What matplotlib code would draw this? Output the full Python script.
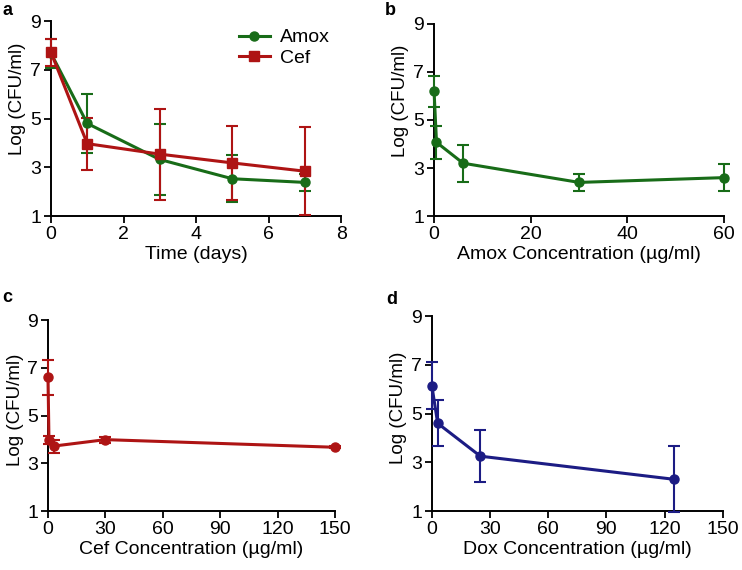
import matplotlib
matplotlib.use("Agg")
import matplotlib.pyplot as plt

plt.rcParams['font.family'] = ['Liberation Sans', 'DejaVu Sans']

GREEN = '#186c18'
RED = '#ae1414'
BLUE = '#1c1c84'

# panel a - time kill
days = [0, 1, 3, 5, 7]
amox_t = [7.68, 4.8, 3.32, 2.53, 2.38]
amox_t_err = [0.6, 1.2, 1.45, 0.97, 0.35]
cef_t = [7.72, 3.97, 3.54, 3.18, 2.84]
cef_t_err = [0.55, 1.07, 1.87, 1.52, 1.8]

# panel b - amox concentration
amox_conc = [0, 0.5, 6, 30, 60]
amox_cfu = [6.2, 4.07, 3.2, 2.4, 2.6]
amox_err = [0.65, 0.7, 0.77, 0.35, 0.55]

# panel c - cef concentration
cef_conc = [0, 0.5, 3, 30, 150]
cef_cfu = [6.6, 3.97, 3.72, 3.99, 3.67]
cef_err = [0.74, 0.18, 0.27, 0.12, 0.04]

# panel d - dox concentration
dox_conc = [0, 3, 25, 125]
dox_cfu = [6.15, 4.6, 3.25, 2.3]
dox_err = [0.97, 0.95, 1.07, 1.35]

fig = plt.figure(figsize=(7.42, 5.70), dpi=100)

positions = [
    [0.0687, 0.621, 0.391, 0.342],
    [0.585, 0.621, 0.391, 0.337],
    [0.0647, 0.1035, 0.387, 0.335],
    [0.582, 0.1035, 0.392, 0.342],
]
axes = [fig.add_axes(p) for p in positions]


def style(ax, xmax, xticks, xlabel, ylab_pos):
    ax.set_xlim(0, xmax)
    ax.set_ylim(1, 9)
    ax.set_xticks(xticks)
    ax.set_yticks([1, 3, 5, 7, 9])
    for s in ['top', 'right']:
        ax.spines[s].set_visible(False)
    for s in ['left', 'bottom']:
        ax.spines[s].set_linewidth(1.4)
    ax.tick_params(direction='out', length=5, width=1.3, labelsize=14, pad=2)
    ax.set_xlabel(xlabel, fontsize=14, labelpad=2)
    ax.set_ylabel('Log (CFU/ml)', fontsize=13.5, labelpad=3)
    ax.yaxis.set_label_coords(-0.085, ylab_pos)


def draw(ax, x, y, err, color, marker, label=None):
    ax.errorbar(x, y, yerr=err, color=color, marker=marker, markersize=6.5,
                linewidth=2.2, elinewidth=1.5, capsize=4, capthick=1.5,
                clip_on=False, zorder=3, label=label)


ax = axes[0]
draw(ax, days, amox_t, amox_t_err, GREEN, 'o', 'Amox')
draw(ax, days, cef_t, cef_t_err, RED, 's', 'Cef')
style(ax, 8, [0, 2, 4, 6, 8], 'Time (days)', 0.6)
handles, labels = ax.get_legend_handles_labels()
handles = [h[0] for h in handles]
ax.legend(handles, labels, loc='upper right', bbox_to_anchor=(1.0, 1.02),
          frameon=False, fontsize=14, handlelength=1.6, handletextpad=0.5,
          labelspacing=0.15, borderaxespad=0.2)

ax = axes[1]
draw(ax, amox_conc, amox_cfu, amox_err, GREEN, 'o')
style(ax, 60, [0, 20, 40, 60], 'Amox Concentration (\u00b5g/ml)', 0.6)

ax = axes[2]
draw(ax, cef_conc, cef_cfu, cef_err, RED, 'o')
style(ax, 150, [0, 30, 60, 90, 120, 150], 'Cef Concentration (\u00b5g/ml)', 0.53)

ax = axes[3]
draw(ax, dox_conc, dox_cfu, dox_err, BLUE, 'o')
style(ax, 150, [0, 30, 60, 90, 120, 150], 'Dox Concentration (\u00b5g/ml)', 0.53)

for lbl, (x, y) in zip('abcd', [(0.003, 0.997), (0.518, 0.997),
                                (0.003, 0.493), (0.520, 0.490)]):
    fig.text(x, y, lbl, fontsize=13, fontweight='bold', va='top', ha='left')

fig.savefig('out.png', dpi=100)
